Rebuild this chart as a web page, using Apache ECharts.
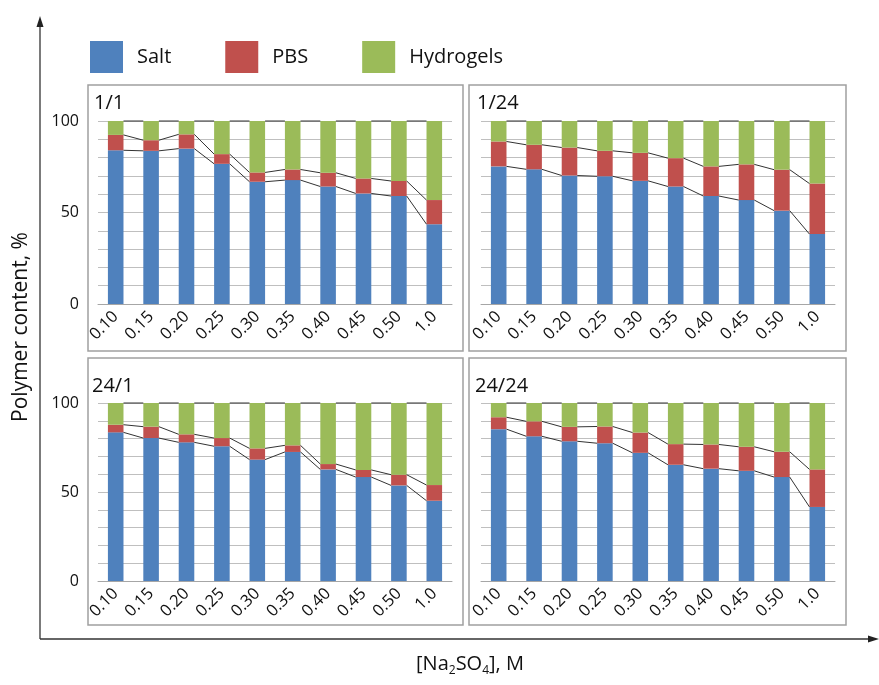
<!DOCTYPE html>
<html>
<head>
<meta charset="utf-8">
<script src="https://cdn.jsdelivr.net/npm/echarts@6/dist/echarts.min.js"></script>
<style>html,body{margin:0;padding:0;background:#fff;}#c{width:879px;height:685px;}</style>
</head>
<body>
<div id="c"></div>
<script>
const categories = ['0.10','0.15','0.20','0.25','0.30','0.35','0.40','0.45','0.50','1.0'];
const seriesNames = ['Salt','PBS','Hydrogels'];
const panelTitles = ['1/1','1/24','24/1','24/24'];
const yTickLabels = ['0','50','100'];

const salt1 = [84.0, 83.7, 84.9, 76.6, 66.8, 67.7, 64.2, 60.4, 59.0, 43.6];
const pbs1  = [8.4, 5.8, 7.8, 5.3, 5.1, 5.8, 7.5, 8.2, 8.2, 13.2];
const hyd1  = [7.6, 10.5, 7.3, 18.1, 28.1, 26.5, 28.3, 31.4, 32.8, 43.2];

const salt2 = [75.2, 73.6, 70.2, 69.8, 67.3, 64.2, 59.0, 56.8, 51.0, 38.2];
const pbs2  = [13.6, 13.4, 15.3, 13.9, 15.3, 15.5, 16.2, 19.5, 22.4, 27.6];
const hyd2  = [11.2, 13.0, 14.5, 16.3, 17.4, 20.3, 24.8, 23.7, 26.6, 34.2];

const salt3 = [83.5, 80.3, 77.9, 75.7, 68.2, 72.5, 62.7, 58.4, 53.7, 45.1];
const pbs3  = [4.3, 6.4, 4.5, 4.6, 6.3, 3.7, 3.0, 4.0, 6.0, 8.8];
const hyd3  = [12.2, 13.3, 17.6, 19.7, 25.5, 23.8, 34.3, 37.6, 40.3, 46.1];

const salt4 = [85.3, 81.3, 78.5, 77.4, 72.0, 65.3, 63.1, 61.9, 58.4, 41.6];
const pbs4  = [6.7, 8.4, 8.1, 9.4, 11.4, 11.6, 13.6, 13.5, 14.2, 21.1];
const hyd4  = [8.0, 10.3, 13.4, 13.2, 16.6, 23.1, 23.3, 24.6, 27.4, 37.3];

const panels = [
  {salt: salt1, pbs: pbs1, hyd: hyd1},
  {salt: salt2, pbs: pbs2, hyd: hyd2},
  {salt: salt3, pbs: pbs3, hyd: hyd3},
  {salt: salt4, pbs: pbs4, hyd: hyd4}
];

const colors = ['#4f81bd', '#c0504d', '#9bbb59'];
const FONT = 'Open Sans';
const BAR_FRAC = 0.44;

const gridPos = [
  {left: 98, top: 121, width: 354, height: 183},
  {left: 481, top: 121, width: 354, height: 183},
  {left: 98, top: 403, width: 354, height: 178},
  {left: 481, top: 403, width: 354, height: 178}
];

const grids = [], xAxes = [], yAxes = [], series = [];

function linesRender(params, api) {
  const i = api.value(0);
  const p1 = api.coord([i, api.value(1)]);
  const p2 = api.coord([i + 1, api.value(2)]);
  const hw = api.size([1, 0])[0] * BAR_FRAC / 2;
  return {
    type: 'line',
    shape: {x1: p1[0] + hw, y1: p1[1], x2: p2[0] - hw, y2: p2[1]},
    style: {stroke: '#333', lineWidth: 1}
  };
}

panels.forEach((p, k) => {
  grids.push(Object.assign({containLabel: false}, gridPos[k]));
  xAxes.push({
    type: 'category', gridIndex: k, data: categories,
    axisTick: {show: false},
    axisLine: {lineStyle: {color: '#a6a6a6', width: 1}},
    axisLabel: {rotate: 45, margin: 10, fontFamily: FONT, fontSize: 16.5, color: '#111', interval: 0}
  });
  yAxes.push({
    type: 'value', gridIndex: k, min: 0, max: 100, interval: 10,
    axisLine: {show: false}, axisTick: {show: false},
    splitLine: {lineStyle: {color: '#bfbfbf', width: 1}},
    axisLabel: {
      show: k % 2 === 0, margin: 19, fontFamily: FONT, fontSize: 16, color: '#111',
      formatter: v => (yTickLabels.indexOf(String(v)) >= 0 ? String(v) : '')
    }
  });
  const vals = [p.salt, p.pbs, p.hyd];
  vals.forEach((arr, s) => {
    series.push({
      name: seriesNames[s], type: 'bar', xAxisIndex: k, yAxisIndex: k,
      stack: 'p' + k, barWidth: (BAR_FRAC * 100) + '%', data: arr,
      itemStyle: {color: colors[s]}, silent: true, z: 2
    });
  });
  // series lines connecting stacked tops
  const cumSalt = p.salt.slice();
  const cumPbs = p.salt.map((v, i) => v + p.pbs[i]);
  const cumAll = p.salt.map((v, i) => v + p.pbs[i] + p.hyd[i]);
  [cumSalt, cumPbs, cumAll].forEach((cum) => {
    const d = [];
    for (let i = 0; i < cum.length - 1; i++) d.push([i, cum[i], cum[i + 1]]);
    series.push({
      type: 'custom', xAxisIndex: k, yAxisIndex: k, renderItem: linesRender,
      data: d, encode: {x: 0, y: 1}, silent: true, z: 5
    });
  });
});

const boxes = [
  {x: 88, y: 85, w: 375, h: 266},
  {x: 469, y: 85, w: 377, h: 266},
  {x: 88, y: 358, w: 375, h: 267},
  {x: 469, y: 358, w: 377, h: 267}
];
const titlePos = [[94, 103], [477, 103], [92, 386], [475, 386]];

const graphic = [];
boxes.forEach(b => graphic.push({
  type: 'rect', shape: {x: b.x, y: b.y, width: b.w, height: b.h},
  style: {fill: 'none', stroke: '#a0a0a0', lineWidth: 1.5}, silent: true, z: 0
}));
panelTitles.forEach((t, k) => graphic.push({
  type: 'text', x: titlePos[k][0], y: titlePos[k][1],
  style: {text: t, font: '20px "Open Sans"', fill: '#111', verticalAlign: 'middle'}
}));
// axes arrows
graphic.push({type: 'line', shape: {x1: 40, y1: 639, x2: 40, y2: 24}, style: {stroke: '#333', lineWidth: 1.3}});
graphic.push({type: 'polygon', shape: {points: [[40, 16], [36.5, 27], [43.5, 27]]}, style: {fill: '#222'}});
graphic.push({type: 'line', shape: {x1: 40, y1: 639, x2: 871, y2: 639}, style: {stroke: '#333', lineWidth: 1.3}});
graphic.push({type: 'polygon', shape: {points: [[879, 639], [868, 635.5], [868, 642.5]]}, style: {fill: '#222'}});
// axis titles
graphic.push({
  type: 'text', x: 470, y: 664,
  style: {
    text: '[Na{s|2}SO{s|4}], M', fill: '#111', align: 'center', verticalAlign: 'middle',
    font: '20px "Open Sans"',
    rich: {s: {fontSize: 12, fontFamily: FONT, fill: '#111', padding: [14, 0, 0, 0]}}
  }
});
graphic.push({
  type: 'text', x: 21, y: 327, rotation: Math.PI / 2,
  style: {text: 'Polymer content, %', font: '21px "Open Sans"', fill: '#111', align: 'center', verticalAlign: 'middle'}
});

const chart = echarts.init(document.getElementById('c'), null, {renderer: 'canvas'});
chart.setOption({
  animation: false,
  backgroundColor: '#fff',
  legend: {
    data: seriesNames, left: 85, top: 36, icon: 'rect', itemWidth: 33, itemHeight: 32, itemGap: 54,
    textStyle: {fontFamily: FONT, fontSize: 20, color: '#111', padding: [0, 0, 0, 9]},
    selectedMode: false
  },
  grid: grids, xAxis: xAxes, yAxis: yAxes, series: series, graphic: graphic
});
</script>
</body>
</html>
